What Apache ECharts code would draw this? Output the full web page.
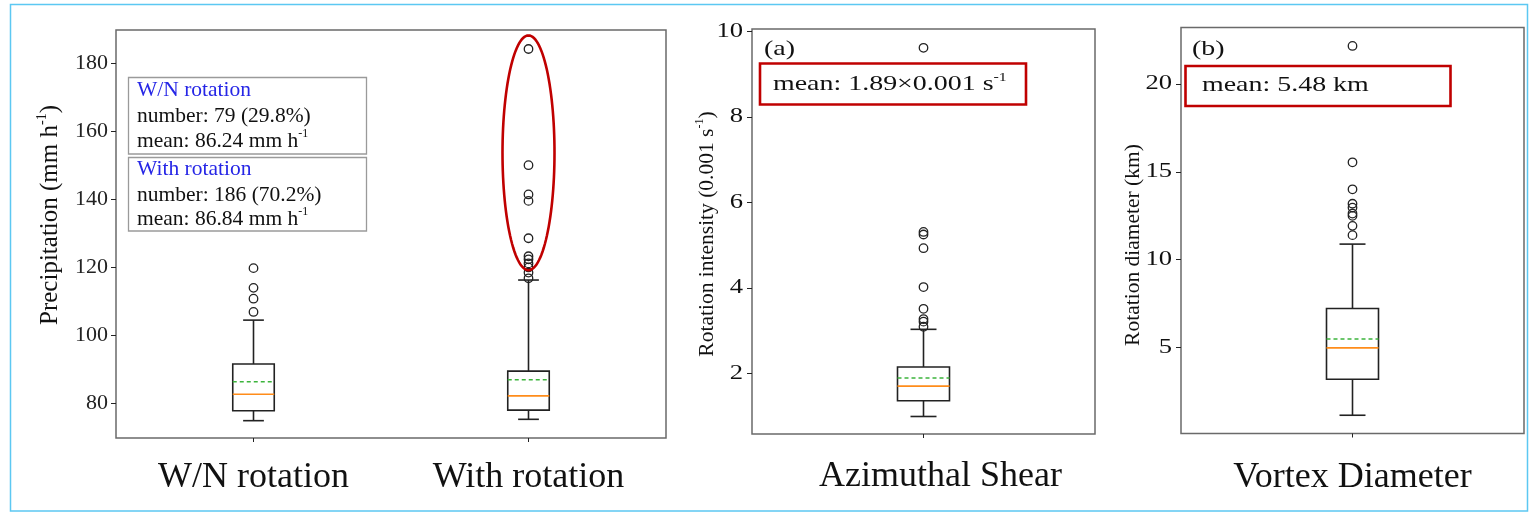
<!DOCTYPE html>
<html>
<head>
<meta charset="utf-8">
<script src="https://cdn.jsdelivr.net/npm/echarts@6/dist/echarts.min.js"></script>
<style>
  html, body { margin: 0; padding: 0; background: #fff; }
  #chart { width: 1529px; height: 514px; }
</style>
</head>
<body>
<div id="chart"></div>
<script>
// ---- Hourly precipitation of storms without / with rotation (mm h-1) ----
const precipCategories = ['W/N rotation', 'With rotation'];
// each box: [lower whisker, Q1, median, Q3, upper whisker]
const precipBoxes = [
  [74.8, 77.7, 82.6, 91.5, 104.4],
  [75.2, 77.9, 82.1, 89.4, 116.2]
];
const precipMeans = [86.24, 86.84];
const precipOutliersWN = [106.8, 110.7, 113.9, 119.7];
const precipOutliersWith = [116.7, 118.4, 119.9, 121.1, 122.3, 123.2, 128.5, 139.5, 141.4, 150.0, 184.2];
const precipTicks = [80, 100, 120, 140, 160, 180];
// value span enclosed by the red ellipse over the rotation group
const extremeRange = [119.1, 188.2];

// ---- (a) rotation intensity, azimuthal shear (0.001 s-1) ----
const shearCategories = ['Azimuthal Shear'];
const shearBox = [0.99, 1.36, 1.70, 2.15, 3.03];
const shearMean = 1.89;
const shearOutliers = [3.09, 3.21, 3.27, 3.51, 4.02, 4.93, 5.25, 5.31, 9.62];
const shearTicks = [2, 4, 6, 8, 10];

// ---- (b) rotation diameter (km) ----
const diamCategories = ['Vortex Diameter'];
const diamBox = [1.14, 3.19, 4.98, 7.22, 10.89];
const diamMean = 5.48;
const diamOutliers = [11.40, 11.93, 12.50, 12.63, 12.97, 13.19, 14.01, 15.55, 22.18];
const diamTicks = [5, 10, 15, 20];

const SERIF = '"Liberation Serif", "Times New Roman", Times, serif';
const INK = '#222';

const chart = echarts.init(document.getElementById('chart'), null, { renderer: 'canvas' });

// Box with whiskers, orange median and dashed green mean
function boxRenderer(boxWidth) {
  return function (params, api) {
    const x = api.value(0);
    const at = v => api.coord([x, v]);
    const lo = at(api.value(1)), q1 = at(api.value(2)), md = at(api.value(3));
    const q3 = at(api.value(4)), hi = at(api.value(5)), mn = at(api.value(6));
    const cx = lo[0], hw = boxWidth / 2, cw = boxWidth / 4;
    const ln = { stroke: INK, lineWidth: 1.6 };
    return {
      type: 'group',
      children: [
        { type: 'line', shape: { x1: cx, y1: q3[1], x2: cx, y2: hi[1] }, style: ln },
        { type: 'line', shape: { x1: cx, y1: q1[1], x2: cx, y2: lo[1] }, style: ln },
        { type: 'line', shape: { x1: cx - cw, y1: hi[1], x2: cx + cw, y2: hi[1] }, style: ln },
        { type: 'line', shape: { x1: cx - cw, y1: lo[1], x2: cx + cw, y2: lo[1] }, style: ln },
        { type: 'rect', shape: { x: cx - hw, y: q3[1], width: boxWidth, height: q1[1] - q3[1] },
          style: { stroke: INK, lineWidth: 1.6, fill: '#fff' } },
        { type: 'line', shape: { x1: cx - hw, y1: md[1], x2: cx + hw, y2: md[1] },
          style: { stroke: '#ff8c1a', lineWidth: 1.6 } },
        { type: 'line', shape: { x1: cx - hw, y1: mn[1], x2: cx + hw, y2: mn[1] },
          style: { stroke: '#3cb43c', lineWidth: 1.6, lineDash: [4, 3] } }
      ]
    };
  };
}

// Ellipse around a value span of one category
function ellipseRenderer(halfWidth) {
  return function (params, api) {
    const x = api.value(0);
    const top = api.coord([x, api.value(2)]);
    const bot = api.coord([x, api.value(1)]);
    const cx = top[0], cy = (top[1] + bot[1]) / 2, ry = (bot[1] - top[1]) / 2;
    const pts = [];
    for (let i = 0; i < 120; i++) {
      const t = (i / 120) * Math.PI * 2;
      pts.push([cx + halfWidth * Math.cos(t), cy + ry * Math.sin(t)]);
    }
    return { type: 'polygon', shape: { points: pts },
      style: { stroke: '#c00000', lineWidth: 2.6, fill: 'none' } };
  };
}

function boxSeries(idx, rows, boxWidth) {
  return {
    type: 'custom', xAxisIndex: idx, yAxisIndex: idx,
    renderItem: boxRenderer(boxWidth),
    encode: { x: 0, y: [1, 2, 3, 4, 5, 6] },
    data: rows, z: 2, silent: true
  };
}

function outlierSeries(idx, cat, values) {
  return {
    type: 'scatter', xAxisIndex: idx, yAxisIndex: idx,
    symbol: 'circle', symbolSize: 8.5,
    itemStyle: { color: 'rgba(0,0,0,0)', borderColor: INK, borderWidth: 1.3, opacity: 1 },
    data: values.map(v => [cat, v]), z: 3, silent: true
  };
}

function xAxisCfg(idx, cats, margin, padding) {
  return {
    type: 'category', gridIndex: idx, data: cats, boundaryGap: true,
    axisLine: { show: false },
    axisTick: { show: true, alignWithLabel: true, length: 4, lineStyle: { color: INK, width: 1 } },
    axisLabel: { fontFamily: SERIF, fontSize: 36, color: '#111', margin: margin, padding: padding || 0 },
    splitLine: { show: false }
  };
}

function yAxisCfg(idx, min, max, ticks, showLabels) {
  return {
    type: 'value', gridIndex: idx, min: min, max: max,
    axisLine: { show: false },
    axisTick: { show: true, length: 5, customValues: ticks, lineStyle: { color: INK, width: 1 } },
    axisLabel: { show: showLabels, customValues: ticks, fontFamily: SERIF, fontSize: 22, color: INK, margin: 8 },
    splitLine: { show: false }
  };
}

const frame = { show: true, borderColor: '#6a6a6a', borderWidth: 1.5, backgroundColor: 'rgba(0,0,0,0)' };

const option = {
  backgroundColor: '#fff',
  animation: false,
  grid: [
    Object.assign({ left: 116, top: 30, width: 550, height: 408 }, frame),
    Object.assign({ left: 752, top: 29, width: 343, height: 405 }, frame),
    Object.assign({ left: 1181, top: 27.5, width: 343, height: 406 }, frame)
  ],
  xAxis: [
    xAxisCfg(0, precipCategories, 22),
    xAxisCfg(1, shearCategories, 25, [0, 0, 0, 34]),
    xAxisCfg(2, diamCategories, 26)
  ],
  yAxis: [
    yAxisCfg(0, 69.7, 189.8, precipTicks, true),
    yAxisCfg(1, 0.58, 10.06, shearTicks, false),
    yAxisCfg(2, 0.10, 23.23, diamTicks, false)
  ],
  series: [
    boxSeries(0, precipBoxes.map((b, i) => [i].concat(b, [precipMeans[i]])), 41.5),
    outlierSeries(0, precipCategories[0], precipOutliersWN),
    outlierSeries(0, precipCategories[1], precipOutliersWith),
    {
      type: 'custom', xAxisIndex: 0, yAxisIndex: 0,
      renderItem: ellipseRenderer(26),
      encode: { x: 0, y: [1, 2] },
      data: [[1, extremeRange[0], extremeRange[1]]], z: 4, silent: true
    },
    boxSeries(1, [[0].concat(shearBox, [shearMean])], 52),
    outlierSeries(1, shearCategories[0], shearOutliers),
    boxSeries(2, [[0].concat(diamBox, [diamMean])], 52),
    outlierSeries(2, diamCategories[0], diamOutliers)
  ]
};

chart.setOption(option);

// ---- annotations ----
const supRich = (size) => ({
  sup: { fontFamily: SERIF, fontSize: size, fill: '#111', verticalAlign: 'top', lineHeight: Math.round(size * 1.1) }
});

function label(id, x, y, text, opts) {
  opts = opts || {};
  return {
    type: 'text', id: id, x: x, y: y,
    rotation: opts.rotation || 0,
    scaleX: opts.scaleX || 1, scaleY: opts.scaleY || 1,
    silent: true, z: 100,
    style: {
      text: text, fontFamily: SERIF, fontSize: opts.size || 20,
      fill: opts.color || '#111',
      align: opts.align || 'left', verticalAlign: 'middle',
      lineHeight: opts.lineHeight || Math.round((opts.size || 20) * 1.2),
      rich: supRich(Math.round((opts.size || 20) * 0.58))
    }
  };
}

function boxRect(id, x, y, w, h, color, lw) {
  return { type: 'rect', id: id, silent: true, z: 90,
    shape: { x: x, y: y, width: w, height: h },
    style: { fill: '#fff', stroke: color, lineWidth: lw } };
}

const LEGEND_SIZE = 21.5;

const graphics = [
  // outer frame of the figure
  { type: 'rect', id: 'outer', silent: true, z: 0,
    shape: { x: 10.5, y: 4.5, width: 1517, height: 506.5 },
    style: { fill: 'none', stroke: '#5cc8f2', lineWidth: 1.5 } },

  // group summary boxes, precipitation panel
  boxRect('lg1', 128.5, 77.5, 238, 76.5, '#9a9a9a', 1.3),
  boxRect('lg2', 128.5, 157.5, 238, 73.5, '#9a9a9a', 1.3),
  label('lg1a', 137, 90, 'W/N rotation', { color: '#2626e6', size: LEGEND_SIZE }),
  label('lg1b', 137, 116, 'number: 79 (29.8%)', { size: LEGEND_SIZE }),
  label('lg1c', 137, 141, 'mean: 86.24 mm h{sup|-1}', { size: LEGEND_SIZE }),
  label('lg2a', 137, 169, 'With rotation', { color: '#2626e6', size: LEGEND_SIZE }),
  label('lg2b', 137, 195, 'number: 186 (70.2%)', { size: LEGEND_SIZE }),
  label('lg2c', 137, 219, 'mean: 86.84 mm h{sup|-1}', { size: LEGEND_SIZE }),

  // panel (a)
  label('pa', 764, 49, '(a)', { size: 21, scaleX: 1.33 }),
  boxRect('ma', 760, 63.5, 266, 41, '#c00000', 2.6),
  label('mta', 773, 84, 'mean: 1.89×0.001 s{sup|-1}', { size: 21, scaleX: 1.33 }),

  // panel (b)
  label('pb', 1192, 49, '(b)', { size: 21, scaleX: 1.33 }),
  boxRect('mb', 1185.5, 66, 265, 40, '#c00000', 2.6),
  label('mtb', 1202, 85, 'mean: 5.48 km', { size: 21, scaleX: 1.33 }),

  // y-axis titles
  label('yt0', 50, 215, 'Precipitation (mm h{sup|-1})', { size: 25, align: 'center', rotation: Math.PI / 2 }),
  label('yt1', 707, 234, 'Rotation intensity (0.001 s{sup|-1})', { size: 21.5, align: 'center', rotation: Math.PI / 2 }),
  label('yt2', 1133, 245, 'Rotation diameter (km)', { size: 21.5, align: 'center', rotation: Math.PI / 2 })
];

// tick labels of panels (a) and (b), placed through the value axes
function tickLabels(prefix, yAxisIndex, ticks, gridLeft) {
  ticks.forEach((t, i) => {
    const y = chart.convertToPixel({ yAxisIndex: yAxisIndex }, t);
    graphics.push(label(prefix + i, gridLeft - 9, y, String(t), { size: 20, align: 'right', scaleX: 1.33 }));
  });
}
tickLabels('ta', 1, shearTicks, 752);
tickLabels('tb', 2, diamTicks, 1181);

chart.setOption({ graphic: graphics });
</script>
</body>
</html>
